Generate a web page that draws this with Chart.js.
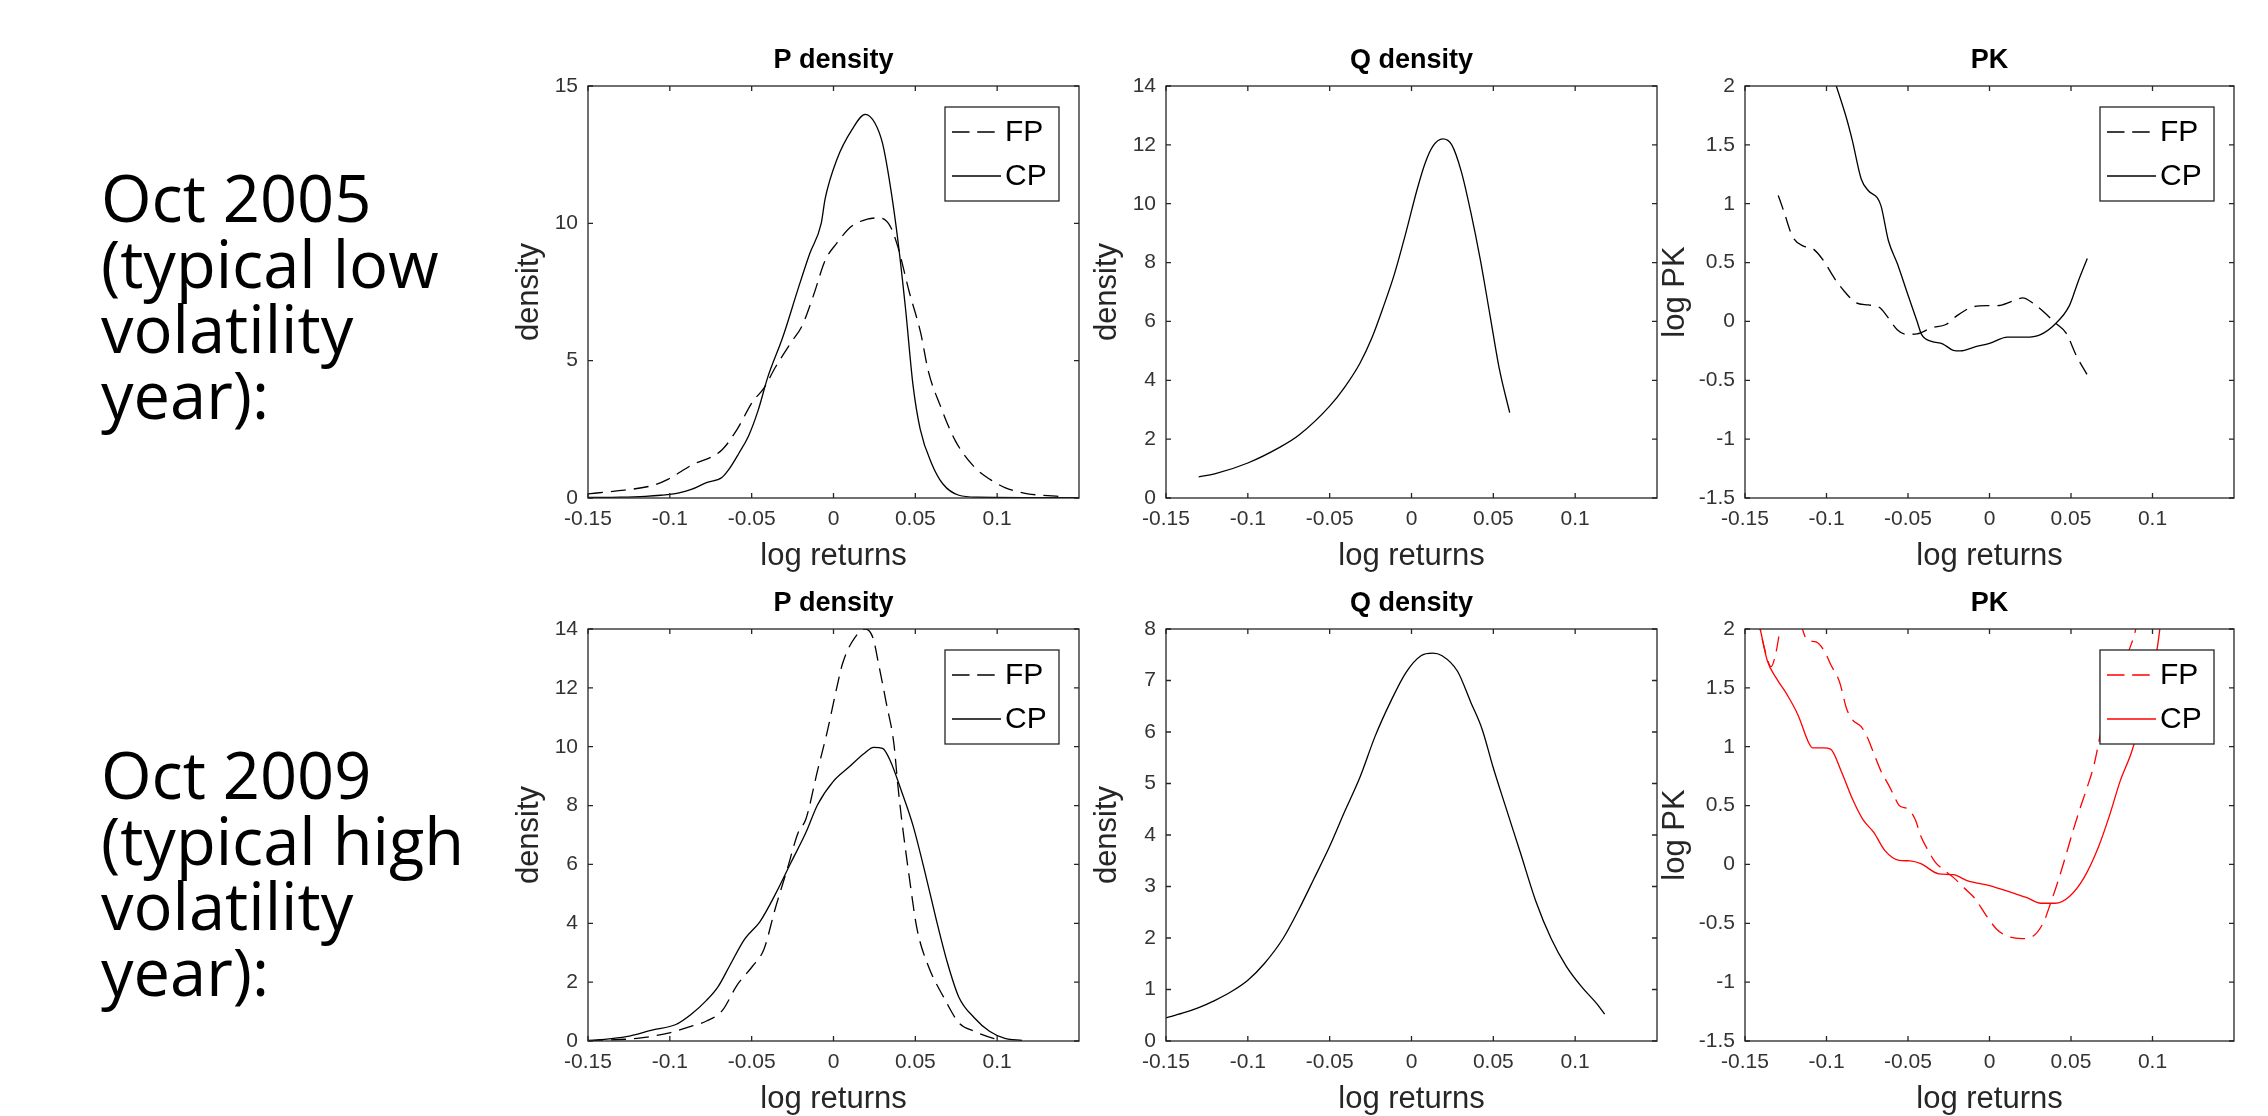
<!DOCTYPE html>
<html>
<head>
<meta charset="utf-8">
<title>P density, Q density and PK</title>
<script src="https://cdn.jsdelivr.net/npm/chart.js@4.4.1/dist/chart.umd.min.js"></script>
<style>
  body { margin: 0; background: #fff; width: 2268px; height: 1116px; overflow: hidden; position: relative; }
  .note { position: absolute; left: 101px; font-family: 'Open Sans', sans-serif; font-size: 65px; line-height: 65.5px; color: #000; white-space: nowrap; }
  canvas { position: absolute; }
</style>
</head>
<body>
<div class="note" style="top: 165px;">Oct 2005<br>(typical low<br>volatility<br>year):</div>
<div class="note" style="top: 742px;">Oct 2009<br>(typical high<br>volatility<br>year):</div>
<canvas id="pLow"></canvas>
<canvas id="qLow"></canvas>
<canvas id="pkLow"></canvas>
<canvas id="pHigh"></canvas>
<canvas id="qHigh"></canvas>
<canvas id="pkHigh"></canvas>
<script>
// x axis (log returns), same for every panel
const xTicks = [-0.15, -0.1, -0.05, 0, 0.05, 0.1];
const xTickLabels = ['-0.15', '-0.1', '-0.05', '0', '0.05', '0.1'];

// y ticks
const pTicks2005 = [0, 5, 10, 15];
const qTicks2005 = [0, 2, 4, 6, 8, 10, 12, 14];
const pTicks2009 = [0, 2, 4, 6, 8, 10, 12, 14];
const qTicks2009 = [0, 1, 2, 3, 4, 5, 6, 7, 8];
const pkTicks = [-1.5, -1, -0.5, 0, 0.5, 1, 1.5, 2];

// Oct 2005, [log return, value]
const pFP2005 = [[-0.15,0.15],[-0.1336,0.25],[-0.1103,0.46],[-0.1009,0.69],[-0.0869,1.19],[-0.0682,1.75],[-0.0589,2.5],
  [-0.0495,3.5],[-0.0425,4.0],[-0.0355,4.76],[-0.0262,5.64],[-0.0192,6.27],[-0.0121,7.4],[-0.0051,8.65],[0.0019,9.27],
  [0.0112,9.9],[0.0206,10.15],[0.0276,10.2],[0.0346,9.9],[0.0393,9.15],[0.0463,7.5],[0.0533,6.0],[0.058,4.6],[0.065,3.4],
  [0.0743,2.1],[0.086,1.13],[0.0953,0.69],[0.1047,0.38],[0.1187,0.15],[0.128,0.1],[0.14,0.05]];
const pCP2005 = [[-0.15,0.02],[-0.13,0.03],[-0.115,0.06],[-0.1056,0.1],[-0.095,0.18],[-0.0869,0.31],[-0.0776,0.56],
  [-0.0682,0.75],[-0.0636,1.07],[-0.0578,1.63],[-0.0519,2.26],[-0.046,3.2],[-0.0402,4.39],[-0.0308,5.89],[-0.0215,7.64],
  [-0.0145,8.9],[-0.0075,10.0],[-0.0051,10.9],[0.0019,12.3],[0.0112,13.4],[0.0194,13.97],[0.0252,13.66],[0.03,12.9],
  [0.0346,11.4],[0.0393,9.4],[0.044,6.9],[0.0486,4.1],[0.053,2.5],[0.06,1.25],[0.067,0.5],[0.0766,0.1],[0.088,0.03],[0.15,0.01]];
const q2005 = [[-0.13,0.72],[-0.1203,0.82],[-0.1,1.19],[-0.0806,1.72],[-0.0689,2.13],[-0.05,3.12],[-0.0409,3.76],
  [-0.0315,4.58],[-0.0245,5.4],[-0.0175,6.45],[-0.0105,7.6],[-0.0035,9.0],[0.0035,10.5],[0.0082,11.36],[0.0129,11.94],
  [0.0192,12.2],[0.0246,12.0],[0.0304,11.1],[0.0362,9.72],[0.0421,8.08],[0.048,6.2],[0.0538,4.35],[0.06,2.9]];
const pkFP2005 = [[-0.1296,1.07],[-0.1263,0.94],[-0.1208,0.72],[-0.1141,0.64],[-0.1086,0.62],[-0.1015,0.51],[-0.0953,0.37],
  [-0.0887,0.25],[-0.082,0.16],[-0.0743,0.14],[-0.0676,0.12],[-0.0621,0.03],[-0.0566,-0.07],[-0.0511,-0.11],[-0.0444,-0.105],
  [-0.0355,-0.055],[-0.0267,-0.026],[-0.0201,0.047],[-0.0111,0.12],[-0.0018,0.134],[0.0049,0.134],[0.0137,0.17],[0.0204,0.2],
  [0.0271,0.15],[0.0337,0.076],[0.0403,-0.012],[0.047,-0.1],[0.0536,-0.3],[0.0598,-0.45]];
const pkCP2005 = [[-0.1,2.25],[-0.094,2.0],[-0.0876,1.72],[-0.0842,1.54],[-0.0787,1.21],[-0.0743,1.11],[-0.0688,1.05],
  [-0.0665,0.98],[-0.0621,0.69],[-0.0565,0.49],[-0.0499,0.22],[-0.0444,0.0],[-0.0417,-0.11],[-0.0355,-0.17],[-0.0288,-0.19],
  [-0.0222,-0.245],[-0.0178,-0.25],[-0.0089,-0.216],[0,-0.187],[0.011,-0.134],[0.022,-0.134],[0.031,-0.114],[0.04,-0.026],
  [0.049,0.134],[0.0544,0.34],[0.06,0.535]];

// Oct 2009, [log return, value]
const pFP2009 = [[-0.15,0.02],[-0.12,0.09],[-0.101,0.27],[-0.087,0.5],[-0.0776,0.68],[-0.068,1.03],[-0.0589,1.9],
  [-0.0495,2.54],[-0.0425,3.12],[-0.0355,4.52],[-0.0285,5.8],[-0.0215,7.09],[-0.0168,7.55],[-0.0098,9.18],[-0.004,10.47],
  [0.0019,11.98],[0.0054,12.8],[0.0112,13.55],[0.0194,14.0],[0.0241,13.7],[0.0276,12.8],[0.0322,11.5],[0.0369,10.1],
  [0.0393,8.7],[0.0416,7.55],[0.0463,5.57],[0.051,3.82],[0.058,2.54],[0.0673,1.49],[0.0766,0.62],[0.086,0.33],[0.0977,0.09],[0.1023,0.03]];
const pCP2009 = [[-0.1465,0.02],[-0.1266,0.15],[-0.1103,0.38],[-0.0963,0.56],[-0.0869,0.91],[-0.0776,1.38],[-0.0706,1.84],
  [-0.0636,2.54],[-0.0542,3.47],[-0.0449,4.06],[-0.0355,4.99],[-0.0262,6.04],[-0.0168,7.09],[-0.0098,8.02],[0,8.83],
  [0.0093,9.3],[0.0187,9.77],[0.0245,9.98],[0.03,9.94],[0.0346,9.53],[0.0416,8.48],[0.0486,7.32],[0.0556,5.8],[0.0626,4.17],
  [0.0696,2.66],[0.0766,1.49],[0.086,0.79],[0.0953,0.33],[0.1047,0.09],[0.1152,0.02]];
const q2009 = [[-0.15,0.45],[-0.14,0.54],[-0.13,0.65],[-0.12,0.79],[-0.11,0.96],[-0.1,1.18],[-0.09,1.5],[-0.0783,2.0],
  [-0.0689,2.55],[-0.0596,3.15],[-0.05,3.78],[-0.0409,4.45],[-0.0315,5.12],[-0.0222,5.92],[-0.0129,6.58],[-0.0035,7.15],
  [0.0058,7.48],[0.0129,7.53],[0.0187,7.48],[0.0281,7.18],[0.0362,6.58],[0.0432,6.05],[0.05,5.3],[0.0572,4.58],[0.0666,3.65],
  [0.0759,2.72],[0.0853,1.99],[0.0946,1.45],[0.104,1.05],[0.1133,0.72],[0.118,0.52]];
const pkFP2009 = [[-0.145,2.3],[-0.1374,1.8],[-0.134,1.68],[-0.131,1.8],[-0.1285,2.0],[-0.125,2.3],[-0.118,2.15],[-0.113,1.93],
  [-0.1108,1.9],[-0.1064,1.89],[-0.1008,1.8],[-0.0975,1.7],[-0.092,1.55],[-0.0876,1.32],[-0.0842,1.23],[-0.0787,1.17],
  [-0.0753,1.09],[-0.0709,0.94],[-0.0665,0.79],[-0.0621,0.68],[-0.0588,0.59],[-0.0554,0.5],[-0.0499,0.47],[-0.0455,0.38],
  [-0.0421,0.24],[-0.0377,0.12],[-0.0333,0.02],[-0.0288,-0.04],[-0.0222,-0.11],[-0.0155,-0.2],[-0.0089,-0.29],[-0.0022,-0.43],
  [0.0044,-0.55],[0.011,-0.61],[0.0199,-0.63],[0.0266,-0.61],[0.0332,-0.49],[0.0377,-0.32],[0.0421,-0.14],[0.0465,0.06],
  [0.0509,0.27],[0.0554,0.47],[0.0598,0.65],[0.0642,0.85],[0.0687,1.15],[0.0731,1.38],[0.0775,1.55],[0.082,1.7],[0.0864,1.85],
  [0.0897,2.0],[0.093,2.3]];
const pkCP2009 = [[-0.15,2.5],[-0.1407,2.0],[-0.1363,1.73],[-0.1307,1.58],[-0.1241,1.44],[-0.1175,1.27],[-0.1108,1.03],
  [-0.1086,0.99],[-0.1019,0.99],[-0.0975,0.98],[-0.0909,0.79],[-0.0842,0.56],[-0.0776,0.38],[-0.0709,0.27],[-0.0643,0.12],
  [-0.0554,0.035],[-0.0488,0.03],[-0.0421,0.006],[-0.0311,-0.08],[-0.0222,-0.087],[-0.0133,-0.14],[0,-0.18],[0.0137,-0.24],
  [0.0226,-0.28],[0.0315,-0.33],[0.0403,-0.33],[0.0492,-0.27],[0.0581,-0.11],[0.0669,0.15],[0.0735,0.41],[0.0802,0.71],
  [0.0868,0.94],[0.0913,1.15],[0.0979,1.55],[0.1027,1.82],[0.1045,2.0],[0.108,2.4]];

const axisColor = '#262626';
const fontFamily = '"Liberation Sans", Arial, Helvetica, sans-serif';
const padL = 90, padR = 12, padT = 50, padB = 80;

const panels = [
  { id: 'pLow', left: 588, top: 86, width: 491, height: 412, title: 'P density', yTitle: 'density', yGap: 59,
    yTicks: pTicks2005, lines: [['FP', pFP2005, true], ['CP', pCP2005, false]], color: '#000', legend: true },
  { id: 'qLow', left: 1166, top: 86, width: 491, height: 412, title: 'Q density', yTitle: 'density', yGap: 59,
    yTicks: qTicks2005, lines: [['Q', q2005, false]], color: '#000', legend: false },
  { id: 'pkLow', left: 1745, top: 86, width: 489, height: 412, title: 'PK', yTitle: 'log PK', yGap: 70,
    yTicks: pkTicks, lines: [['FP', pkFP2005, true], ['CP', pkCP2005, false]], color: '#000', legend: true },
  { id: 'pHigh', left: 588, top: 629, width: 491, height: 412, title: 'P density', yTitle: 'density', yGap: 59,
    yTicks: pTicks2009, lines: [['FP', pFP2009, true], ['CP', pCP2009, false]], color: '#000', legend: true },
  { id: 'qHigh', left: 1166, top: 629, width: 491, height: 412, title: 'Q density', yTitle: 'density', yGap: 59,
    yTicks: qTicks2009, lines: [['Q', q2009, false]], color: '#000', legend: false },
  { id: 'pkHigh', left: 1745, top: 629, width: 489, height: 412, title: 'PK', yTitle: 'log PK', yGap: 70,
    yTicks: pkTicks, lines: [['FP', pkFP2009, true], ['CP', pkCP2009, false]], color: '#ff0000', legend: true }
];

// box, inward ticks, title and legend drawn the MATLAB way
const matlabAxes = {
  id: 'matlabAxes',
  afterDatasetsDraw(chart, args, opts) {
    const { ctx, chartArea: a, scales: { x, y } } = chart;
    ctx.save();
    ctx.strokeStyle = axisColor;
    ctx.lineWidth = 1.3;
    ctx.setLineDash([]);
    ctx.beginPath();
    x.ticks.forEach(t => {
      const px = x.getPixelForValue(t.value);
      ctx.moveTo(px, a.bottom); ctx.lineTo(px, a.bottom - 5);
      ctx.moveTo(px, a.top); ctx.lineTo(px, a.top + 5);
    });
    y.ticks.forEach(t => {
      const py = y.getPixelForValue(t.value);
      ctx.moveTo(a.left, py); ctx.lineTo(a.left + 5, py);
      ctx.moveTo(a.right, py); ctx.lineTo(a.right - 5, py);
    });
    ctx.stroke();
    ctx.strokeRect(a.left, a.top, a.right - a.left, a.bottom - a.top);

    ctx.fillStyle = '#000';
    ctx.font = 'bold 27px ' + fontFamily;
    ctx.textAlign = 'center';
    ctx.textBaseline = 'middle';
    ctx.fillText(opts.title, (a.left + a.right) / 2, a.top - 25);

    if (opts.legend) {
      const w = 114, h = 94;
      const bx = a.right - 20 - w, by = a.top + 21;
      ctx.fillStyle = '#fff';
      ctx.fillRect(bx, by, w, h);
      ctx.strokeStyle = axisColor;
      ctx.strokeRect(bx, by, w, h);
      ctx.font = '30px ' + fontFamily;
      ctx.textAlign = 'left';
      chart.data.datasets.forEach((ds, i) => {
        const cy = by + 25 + i * 44;
        ctx.strokeStyle = ds.borderColor;
        ctx.setLineDash(ds.borderDash.length ? [17.5, 7.7] : []);
        ctx.beginPath();
        ctx.moveTo(bx + 7, cy); ctx.lineTo(bx + 56, cy);
        ctx.stroke();
        ctx.fillStyle = '#000';
        ctx.fillText(ds.label, bx + 60, cy + 1);
      });
    }
    ctx.restore();
  }
};

function fmt(v) {
  return String(Math.round(v * 100) / 100);
}

panels.forEach(p => {
  const canvas = document.getElementById(p.id);
  const cw = p.width + padL + padR, ch = p.height + padT + padB;
  canvas.width = cw; canvas.height = ch;
  canvas.style.left = (p.left - padL) + 'px';
  canvas.style.top = (p.top - padT) + 'px';
  canvas.style.width = cw + 'px';
  canvas.style.height = ch + 'px';

  const datasets = p.lines.map(([label, pts, dashed]) => ({
    label: label,
    data: pts.map(([x, y]) => ({ x: x, y: y })),
    borderColor: p.color,
    borderWidth: 1.3,
    borderDash: dashed ? [15, 8] : [],
    pointRadius: 0,
    fill: false,
    cubicInterpolationMode: 'monotone'
  }));

  new Chart(canvas, {
    type: 'line',
    data: { datasets: datasets },
    options: {
      responsive: false,
      animation: false,
      devicePixelRatio: 1,
      layout: { padding: { left: 0, right: padR, top: padT, bottom: 0 } },
      plugins: {
        legend: { display: false },
        tooltip: { enabled: false },
        matlabAxes: { title: p.title, legend: p.legend }
      },
      scales: {
        x: {
          type: 'linear',
          min: -0.15,
          max: 0.15,
          grid: { display: false, drawTicks: false },
          border: { display: false },
          afterBuildTicks: s => { s.ticks = xTicks.map(v => ({ value: v })); },
          afterFit: s => { s.height = padB; },
          ticks: {
            autoSkip: false, maxRotation: 0, padding: 9, color: '#333',
            font: { family: fontFamily, size: 21 },
            callback: (v, i) => xTickLabels[i]
          },
          title: {
            display: true, text: 'log returns', color: axisColor,
            font: { family: fontFamily, size: 31 }, padding: { top: 0, bottom: 3 }
          }
        },
        y: {
          type: 'linear',
          min: p.yTicks[0],
          max: p.yTicks[p.yTicks.length - 1],
          grid: { display: false, drawTicks: false },
          border: { display: false },
          afterBuildTicks: s => { s.ticks = p.yTicks.map(v => ({ value: v })); },
          afterFit: s => { s.width = padL; },
          ticks: {
            autoSkip: false, padding: 10, color: '#333',
            font: { family: fontFamily, size: 21 },
            callback: v => fmt(v)
          },
          title: {
            display: true, text: p.yTitle, color: axisColor,
            font: { family: fontFamily, size: 31 }, padding: { top: padL - p.yGap - 18.6, bottom: 0 }
          }
        }
      }
    },
    plugins: [matlabAxes]
  });
});
</script>
</body>
</html>
